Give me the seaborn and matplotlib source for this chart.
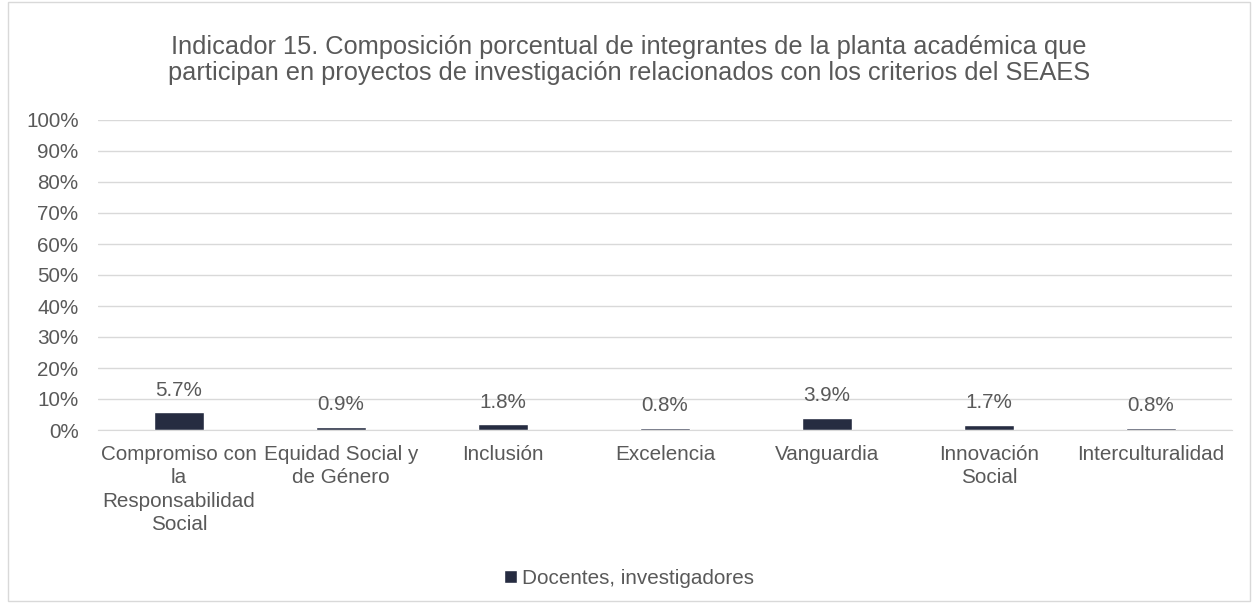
import numpy as np
import matplotlib.pyplot as plt
import seaborn as sns
from matplotlib.patches import Rectangle

# -----------------------
# Data
# -----------------------
categories = ["Compromiso con\nla\nResponsabilidad\nSocial", "Equidad Social y\nde Género", "Inclusión",
              "Excelencia", "Vanguardia", "Innovación\nSocial", "Interculturalidad"]
values = [5.7, 0.9, 1.8, 0.8, 3.9, 1.7, 0.8]
series_name = "Docentes, investigadores"
title = ("Indicador 15. Composición porcentual de integrantes de la planta académica que\n"
         "participan en proyectos de investigación relacionados con los criterios del SEAES")

# -----------------------
# Style
# -----------------------
sns.set_style("white")
plt.rcParams['font.family'] = ['Liberation Sans', 'DejaVu Sans']
bar_color = "#222A45"
text_color = "#595959"
fs = 14.9

W, H = 1258, 607
fig = plt.figure(figsize=(W / 100, H / 100), dpi=100)
ax = fig.add_axes([98 / W, 1 - 430 / H, (1232 - 98) / W, (430 - 120) / H])

sns.barplot(x=categories, y=values, color=bar_color, width=0.31, ax=ax, label=series_name)

for i, v in enumerate(values):
    ax.annotate(f"{v:.1f}%", xy=(i, v), xytext=(0, 16), textcoords="offset points",
                ha="center", va="center", fontsize=fs, color=text_color)

ax.set_ylim(0, 100)
ax.set_xlim(-0.5, len(categories) - 0.5)
ax.set_yticks(np.arange(0, 101, 10))
ax.set_yticklabels([f"{t}%" for t in range(0, 101, 10)], fontsize=fs, color=text_color)
ax.set_xticks(range(len(categories)))
ax.set_xticklabels(categories, linespacing=1.28)
ax.tick_params(axis="x", labelsize=fs, labelcolor=text_color, length=0, pad=11)
ax.tick_params(axis="y", length=0, pad=14)
ax.grid(axis="y", color="#D9D9D9", linewidth=1)
ax.set_axisbelow(True)
for s in ["top", "right", "left"]:
    ax.spines[s].set_visible(False)
ax.spines["bottom"].set_color("#D9D9D9")
ax.set_xlabel("")
ax.set_ylabel("")

ax.legend(loc="center", bbox_to_anchor=(0.5, 1 - 578 / H), bbox_transform=fig.transFigure,
          frameon=False, fontsize=fs, labelcolor=text_color, handlelength=0.6, handleheight=0.6,
          handletextpad=0.25)

fig.text(0.5, 1 - 60 / H, title, ha="center", va="center", fontsize=18.3, color=text_color,
         linespacing=1.12)

fig.patches.append(Rectangle((8 / W, 6 / H), 1 - 16 / W, 1 - 8 / H, transform=fig.transFigure,
                             fill=False, edgecolor="#D9D9D9", linewidth=1))

fig.savefig("out.png", dpi=100, facecolor="white")
